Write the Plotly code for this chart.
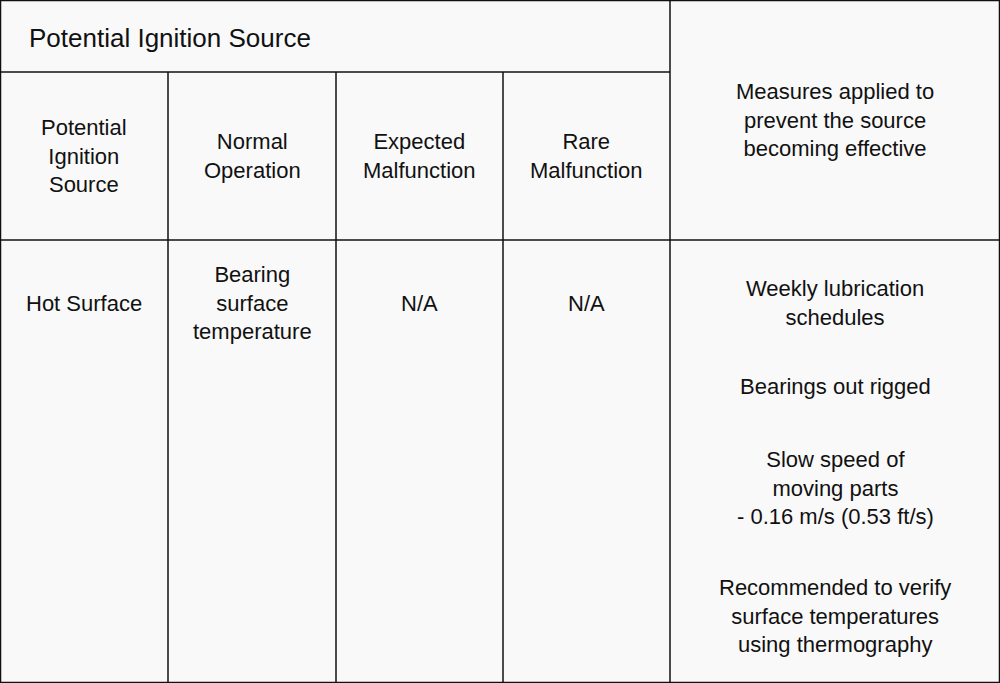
import plotly.graph_objects as go

# table content
title = "Potential Ignition Source"
headers = ["Potential<br>Ignition<br>Source", "Normal<br>Operation", "Expected<br>Malfunction", "Rare<br>Malfunction"]
measures_header = "Measures applied to<br>prevent the source<br>becoming effective"
row_values = ["Hot Surface", "Bearing<br>surface<br>temperature", "N/A", "N/A"]
measures = [
    "Weekly lubrication<br>schedules",
    "Bearings out rigged",
    "Slow speed of<br>moving parts<br>- 0.16 m/s (0.53 ft/s)",
    "Recommended to verify<br>surface temperatures<br>using thermography",
]

# grid geometry (pixels)
W, H = 1000, 683
col_x = [0, 168, 336, 503, 670, 1000]
row_y = [0, 72, 240, 683]
measure_y = [303, 386, 488, 616]

font = dict(family="Liberation Sans, Arial", size=22, color="#111")
fig = go.Figure()

line = dict(color="#111", width=1.5)
shapes = [dict(type="rect", x0=0.5, y0=0.5, x1=W - 0.5, y1=H - 0.5, line=line)]
for x in col_x[1:-1]:
    y0 = row_y[0] if x == col_x[4] else row_y[1]
    shapes.append(dict(type="line", x0=x, x1=x, y0=y0, y1=H, line=line))
shapes.append(dict(type="line", x0=0, x1=col_x[4], y0=row_y[1], y1=row_y[1], line=line))
shapes.append(dict(type="line", x0=0, x1=W, y0=row_y[2], y1=row_y[2], line=line))

ann = [dict(x=27, y=38, text=title, xanchor="left", font=dict(font, size=26))]
for i, h in enumerate(headers):
    ann.append(dict(x=(col_x[i] + col_x[i + 1]) / 2, y=(row_y[1] + row_y[2]) / 2, text=h))
ann.append(dict(x=(col_x[4] + col_x[5]) / 2, y=120, text=measures_header))
for i, v in enumerate(row_values):
    ann.append(dict(x=(col_x[i] + col_x[i + 1]) / 2, y=303, text=v))
for m, y in zip(measures, measure_y):
    ann.append(dict(x=(col_x[4] + col_x[5]) / 2, y=y, text=m))
for a in ann:
    a.setdefault("font", font)
    a.update(xref="x", yref="y", showarrow=False, yanchor="middle")
    a.setdefault("xanchor", "center")

fig.update_layout(
    width=W, height=H, margin=dict(l=0, r=0, t=0, b=0),
    paper_bgcolor="#f9f9f9", plot_bgcolor="#f9f9f9",
    xaxis=dict(range=[0, W], visible=False, fixedrange=True),
    yaxis=dict(range=[H, 0], visible=False, fixedrange=True),
    shapes=shapes, annotations=ann, showlegend=False,
)
fig.write_html(
    "out.html",
    config={"displayModeBar": False},
    post_script="document.body.style.margin='0';",
)
